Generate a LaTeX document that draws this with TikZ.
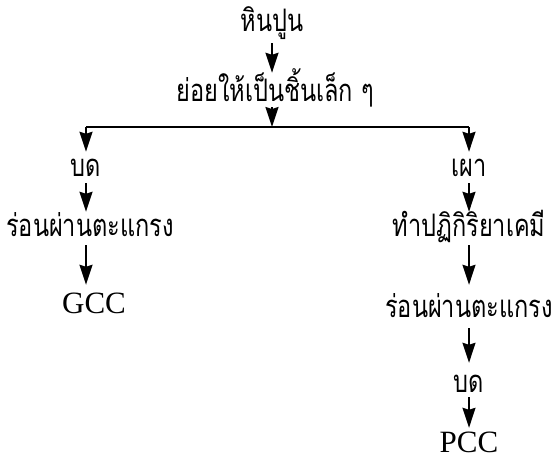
\documentclass[tikz,border=0pt]{standalone}
\usepackage{fontspec}
\setmainfont{Liberation Serif}
\newfontfamily\thaifont[Script=Thai,FakeStretch=0.76]{Loma}
\usetikzlibrary{arrows.meta}
\begin{document}
\begin{tikzpicture}[x=1pt,y=-1pt,
  th/.style={font=\thaifont\fontsize{31}{34}\selectfont, inner sep=0pt, anchor=base},
  la/.style={font=\fontsize{31}{34}\selectfont, inner sep=0pt, anchor=base},
  arr/.style={line width=1.8pt, -{Stealth[length=20pt,width=13pt,inset=2pt]}},
  ln/.style={line width=1.4pt}]
\useasboundingbox (0,0) rectangle (553,468);
\node[th, text height=20pt, text depth=11pt] (hin) at (272,32) {หินปูน};
\node[th, text height=29pt, text depth=5pt] (yoi) at (275,102) {ย่อยให้เป็นชิ้นเล็ก ๆ};
\coordinate (split) at (272,127);
\coordinate (L) at (86,127);
\coordinate (R) at (469,127);
\node[th, text height=24pt, text depth=7pt] (bd1) at (86,176) {บด};
\node[th, text height=24pt, text depth=9pt] (ron1) at (90,236) {ร่อนผ่านตะแกรง};
\node[la, text height=28pt, text depth=5pt] (gcc) at (94,313) {GCC};
\node[th, text height=24pt, text depth=7pt] (phao) at (469,176) {เผา};
\node[th, text height=24pt, text depth=9pt] (tham) at (469,236) {ทำปฏิกิริยาเคมี};
\node[th, text height=32pt, text depth=11pt] (ron2) at (469,317) {ร่อนผ่านตะแกรง};
\node[th, text height=29pt, text depth=5pt] (bd2) at (469,392) {บด};
\node[la, text height=24pt, text depth=3pt] (pcc) at (469,452) {PCC};
\draw[arr] (hin.south) -- (hin.south |- yoi.north);
\draw[arr] (split |- yoi.south) -- (split);
\draw[ln] (L) -- (R);
\draw[arr] (L) -- (bd1.north);
\draw[arr] (R) -- (phao.north);
\draw[arr] (bd1.south) -- (bd1.south |- ron1.north);
\draw[arr] (bd1.south |- ron1.south) -- (bd1.south |- gcc.north);
\draw[arr] (phao.south) -- (tham.north);
\draw[arr] (tham.south) -- (ron2.north);
\draw[arr] (ron2.south) -- (bd2.north);
\draw[arr] (bd2.south) -- (pcc.north);
\end{tikzpicture}
\end{document}
